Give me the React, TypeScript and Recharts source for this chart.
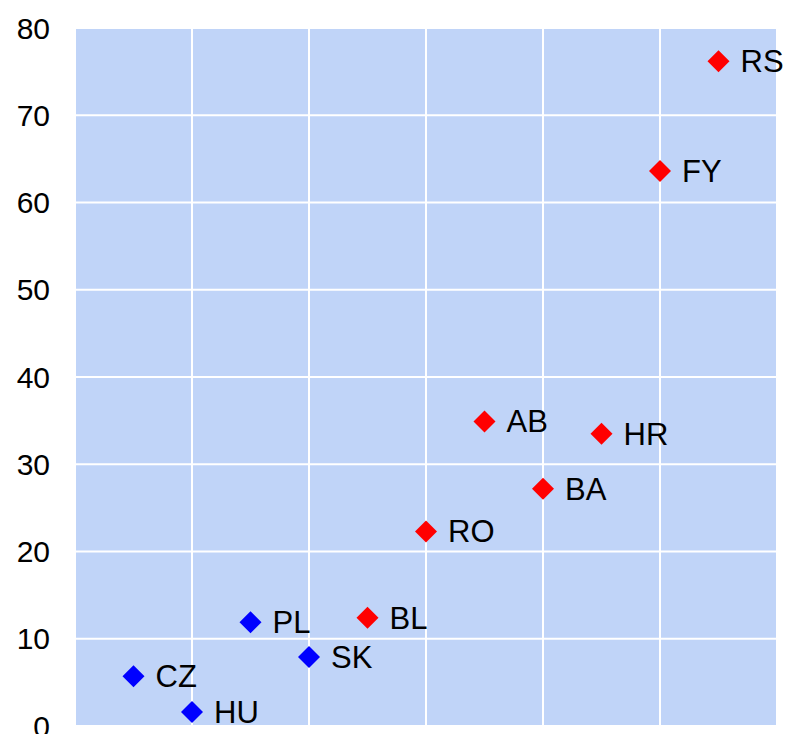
import { ScatterChart, Scatter, XAxis, YAxis, CartesianGrid } from "recharts";

const blueNames = ["CZ", "HU", "PL", "SK"];
const blueX = [0.5, 1.0, 1.5, 2.0];
const blueY = [5.7, 1.6, 11.9, 7.9];

const redNames = ["BL", "RO", "AB", "BA", "HR", "FY", "RS"];
const redX = [2.5, 3.0, 3.5, 4.0, 4.5, 5.0, 5.5];
const redY = [12.4, 22.3, 34.9, 27.2, 33.5, 63.6, 76.2];

const xTicks = [0, 1, 2, 3, 4, 5, 6];
const yTicks = [0, 10, 20, 30, 40, 50, 60, 70, 80];

const blueData = blueNames.map((name, i) => ({ name, x: blueX[i], y: blueY[i] }));
const redData = redNames.map((name, i) => ({ name, x: redX[i], y: redY[i] }));

const FONT = "'Liberation Sans', Arial, sans-serif";

const diamond = (color: string) => (props: any) => {
  const { cx, cy, payload } = props;
  const r = 11;
  return (
    <g>
      <polygon
        points={`${cx},${cy - r} ${cx + r},${cy} ${cx},${cy + r} ${cx - r},${cy}`}
        fill={color}
      />
      <text x={cx + 22} y={cy + 11} fontSize={31} fontFamily={FONT} fill="#000">
        {payload.name}
      </text>
    </g>
  );
};

export default function App() {
  return (
    <div style={{ position: "absolute", left: 0, top: 0, background: "#fff" }}>
      <ScatterChart width={787} height={734} margin={{ top: 28, right: 10, bottom: 8, left: 0 }}>
        <CartesianGrid fill="#c0d4f8" stroke="#ffffff" strokeWidth={2} />
        <XAxis
          type="number"
          dataKey="x"
          domain={[0, 6]}
          ticks={xTicks}
          interval={0}
          tick={() => <g />}
          axisLine={false}
          tickLine={false}
          height={0}
        />
        <YAxis
          type="number"
          dataKey="y"
          domain={[0, 80]}
          ticks={yTicks}
          interval={0}
          axisLine={false}
          tickLine={false}
          width={75}
          tickMargin={19}
          tick={{ fontSize: 30, fontFamily: FONT, fill: "#000" }}
        />
        <Scatter data={blueData} shape={diamond("#0000ff")} isAnimationActive={false} />
        <Scatter data={redData} shape={diamond("#ff0000")} isAnimationActive={false} />
      </ScatterChart>
    </div>
  );
}
